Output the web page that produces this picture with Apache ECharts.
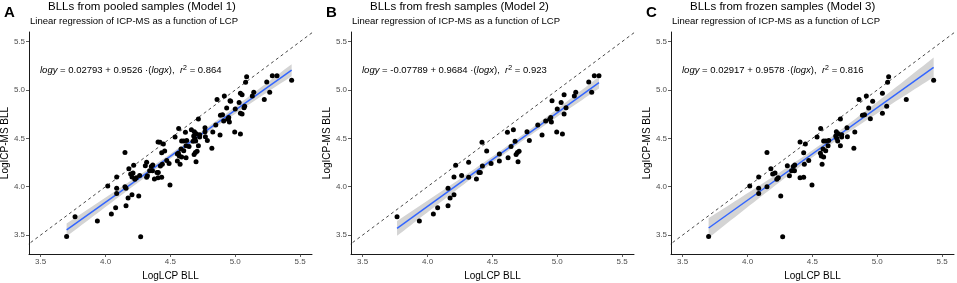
<!DOCTYPE html>
<html><head><meta charset="utf-8">
<script src="https://cdn.jsdelivr.net/npm/echarts@6/dist/echarts.min.js"></script>
<style>html,body{margin:0;padding:0;background:#fff}#c{width:957px;height:283px}</style>
</head><body><div id="c"></div>
<script>
// ---- data ----
const panelLetters = ['A', 'B', 'C'];
const panelTitles = ['BLLs from pooled samples (Model 1)', 'BLLs from fresh samples (Model 2)', 'BLLs from frozen samples (Model 3)'];
const subtitle = 'Linear regression of ICP-MS as a function of LCP';
const xAxisName = 'LogLCP BLL';
const yAxisName = 'LogICP-MS BLL';
const xTicks = [3.5, 4.0, 4.5, 5.0, 5.5];
const yTicks = [3.5, 4.0, 4.5, 5.0, 5.5];
const intercepts = [0.02793, -0.07789, 0.02917];
const slopes = [0.9526, 0.9684, 0.9578];
const interceptLabels = ['0.02793', '-0.07789', '0.02917'];
const slopeLabels = ['0.9526', '0.9684', '0.9578'];
const r2Labels = ['0.864', '0.923', '0.816'];

const freshPoints = [
[3.765,3.69],[3.937,3.645],[4.045,3.717],[4.078,3.783],[4.158,3.983],[4.174,3.883],[4.158,3.803],[4.204,3.917],
[4.204,4.10],[4.217,4.221],[4.263,4.117],[4.317,4.252],[4.317,4.097],[4.377,4.079],[4.397,4.148],[4.407,4.148],
[4.42,4.459],[4.423,4.214],[4.456,4.369],[4.49,4.241],[4.554,4.338],[4.554,4.266],[4.616,4.562],[4.621,4.30],
[4.644,4.417],[4.662,4.59],[4.675,4.469],[4.683,4.334],[4.693,4.355],[4.698,4.259],[4.706,4.366],[4.767,4.569],
[4.785,4.479],[4.85,4.638],[4.883,4.534],[4.911,4.679],[4.942,4.697],[4.955,4.669],[4.96,4.89],[4.95,4.717],
[4.996,4.566],[5.00,4.803],[5.03,4.872],[5.04,4.545],[5.053,4.952],[5.053,4.752],[5.068,4.817],[5.132,4.938],
[5.143,4.976],[5.243,5.083],[5.266,4.976],[5.286,5.148],[5.322,5.148]
];
const frozenPoints = [
[3.70,3.486],[4.017,4.007],[4.086,4.10],[4.086,3.983],[4.086,3.931],[4.15,4.355],[4.15,4.0],[4.18,4.186],
[4.194,4.131],[4.212,4.141],[4.226,4.076],[4.237,4.093],[4.256,3.903],[4.271,3.483],[4.307,4.217],[4.323,4.114],
[4.34,4.166],[4.353,4.21],[4.364,4.224],[4.362,4.166],[4.405,4.462],[4.405,4.093],[4.433,4.097],[4.433,4.352],
[4.446,4.441],[4.438,4.231],[4.472,4.272],[4.497,4.017],[4.536,4.514],[4.564,4.603],[4.562,4.345],[4.569,4.317],
[4.575,4.231],[4.582,4.39],[4.587,4.307],[4.587,4.472],[4.603,4.472],[4.603,4.372],[4.621,4.424],[4.626,4.479],
[4.68,4.524],[4.685,4.569],[4.688,4.5],[4.695,4.472],[4.70,4.548],[4.716,4.70],[4.716,4.424],[4.726,4.514],
[4.726,4.538],[4.767,4.61],[4.77,4.517],[4.82,4.397],[4.827,4.566],[4.86,4.903],[4.886,4.738],[4.902,4.745],
[4.916,4.938],[4.934,4.814],[4.947,4.703],[4.965,4.883],[5.04,4.966],[5.04,4.759],[5.073,4.831],[5.08,5.08],
[5.088,5.138],[5.224,4.903],[5.435,5.10]
];
// pooled = fresh + frozen
const pooledPoints = freshPoints.concat(frozenPoints);
const panelPoints = [pooledPoints, freshPoints, frozenPoints];

// ---- layout ----
const FONT = "'Liberation Sans', Arial, sans-serif";
const gridLefts = [29, 351, 671];
const gridTop = 32, gridW = 283, gridH = 222;
const xMin = 3.41, xMax = 5.592, yMin = 3.304, yMax = 5.60;

function fitBand(pts, a, b) {
  const n = pts.length;
  let xbar = 0; pts.forEach(p => xbar += p[0]); xbar /= n;
  let sxx = 0, sse = 0;
  pts.forEach(p => { sxx += (p[0]-xbar)**2; sse += (p[1]-(a+b*p[0]))**2; });
  const s = Math.sqrt(sse/(n-2));
  const t = 1.98;
  let lo = Infinity, hi = -Infinity;
  pts.forEach(p => { lo = Math.min(lo, p[0]); hi = Math.max(hi, p[0]); });
  const out = [];
  const steps = 60;
  for (let i = 0; i <= steps; i++) {
    const x = lo + (hi-lo)*i/steps;
    const yh = a + b*x;
    const se = s*Math.sqrt(1/n + (x-xbar)**2/sxx);
    out.push([x, yh - t*se, yh + t*se]);
  }
  return {band: out, lo, hi};
}

const grids = [], xAxes = [], yAxes = [], series = [], graphics = [];
for (let i = 0; i < 3; i++) {
  const L = gridLefts[i];
  grids.push({left: L, top: gridTop, width: gridW, height: gridH, containLabel: false, outerBoundsMode: 'none'});
  xAxes.push({
    type: 'value', gridIndex: i, min: xMin, max: xMax,
    name: xAxisName, nameLocation: 'middle', nameGap: 16,
    nameTextStyle: {fontFamily: FONT, fontSize: 10, color: '#000'},
    axisLine: {onZero: false, lineStyle: {color: '#000', width: 0.9}},
    axisTick: {length: 3, lineStyle: {color: '#333', width: 0.8}, customValues: xTicks},
    axisLabel: {customValues: xTicks, formatter: v => v.toFixed(1), color: '#4d4d4d', fontSize: 8, fontFamily: FONT, margin: 4},
    splitLine: {show: false}
  });
  yAxes.push({
    type: 'value', gridIndex: i, min: yMin, max: yMax,
    name: yAxisName, nameLocation: 'middle', nameGap: 15, nameRotate: 90,
    nameTextStyle: {fontFamily: FONT, fontSize: 10, color: '#000'},
    axisLine: {onZero: false, lineStyle: {color: '#000', width: 0.9}},
    axisTick: {length: 3, lineStyle: {color: '#333', width: 0.8}, customValues: yTicks},
    axisLabel: {customValues: yTicks, formatter: v => v.toFixed(1), color: '#4d4d4d', fontSize: 8, fontFamily: FONT, margin: 4},
    splitLine: {show: false}
  });
  const pts = panelPoints[i];
  const fb = fitBand(pts, intercepts[i], slopes[i]);
  const bandData = fb.band;
  series.push({
    type: 'custom', xAxisIndex: i, yAxisIndex: i, data: bandData, encode: {x: 0, y: 1},
    silent: true, z: 1,
    renderItem: (params, api) => {
      if (params.dataIndex !== 0) return null;
      const upper = bandData.map(d => api.coord([d[0], d[2]]));
      const lower = bandData.map(d => api.coord([d[0], d[1]])).reverse();
      return {type: 'polygon', shape: {points: upper.concat(lower)}, style: {fill: '#d4d4d4'}};
    }
  });
  series.push({
    type: 'line', xAxisIndex: i, yAxisIndex: i, z: 2, symbol: 'none', silent: true,
    data: [[3.2, 3.2], [5.8, 5.8]], clip: true,
    lineStyle: {color: '#333', width: 0.9, type: [3, 3]}
  });
  series.push({
    type: 'line', xAxisIndex: i, yAxisIndex: i, z: 3, symbol: 'none', silent: true,
    data: [[fb.lo, intercepts[i] + slopes[i]*fb.lo], [fb.hi, intercepts[i] + slopes[i]*fb.hi]],
    lineStyle: {color: '#3366FF', width: 1.5}
  });
  series.push({
    type: 'scatter', xAxisIndex: i, yAxisIndex: i, z: 4, symbolSize: 5, silent: true,
    data: pts, itemStyle: {color: '#000', opacity: 1}
  });
  // texts
  graphics.push({type: 'text', left: L - 25, top: 5, style: {text: panelLetters[i], font: 'bold 15px ' + FONT, fill: '#000'}});
  graphics.push({type: 'text', left: L + 19, top: 1, style: {text: panelTitles[i], font: '11.5px ' + FONT, fill: '#000'}});
  graphics.push({type: 'text', left: L + 1, top: 16, style: {text: subtitle, font: '9.5px ' + FONT, fill: '#000'}});
  graphics.push({type: 'text', left: L + 11, top: 65, style: {
    text: '{i|logy} = ' + interceptLabels[i] + ' + ' + slopeLabels[i] + ' ·({i|logx}),  {i|r}{s|2} = ' + r2Labels[i],
    font: '9.5px ' + FONT, fill: '#000',
    rich: {i: {fontStyle: 'italic', fontSize: 9.5, fontFamily: FONT}, s: {fontSize: 7, fontFamily: FONT, verticalAlign: 'top', lineHeight: 10, padding: [0, 0, 6, 0]}}
  }});
}

const chart = echarts.init(document.getElementById('c'), null, {renderer: 'canvas'});
chart.setOption({
  animation: false,
  grid: grids, xAxis: xAxes, yAxis: yAxes, series: series, graphic: graphics
});
</script></body></html>
